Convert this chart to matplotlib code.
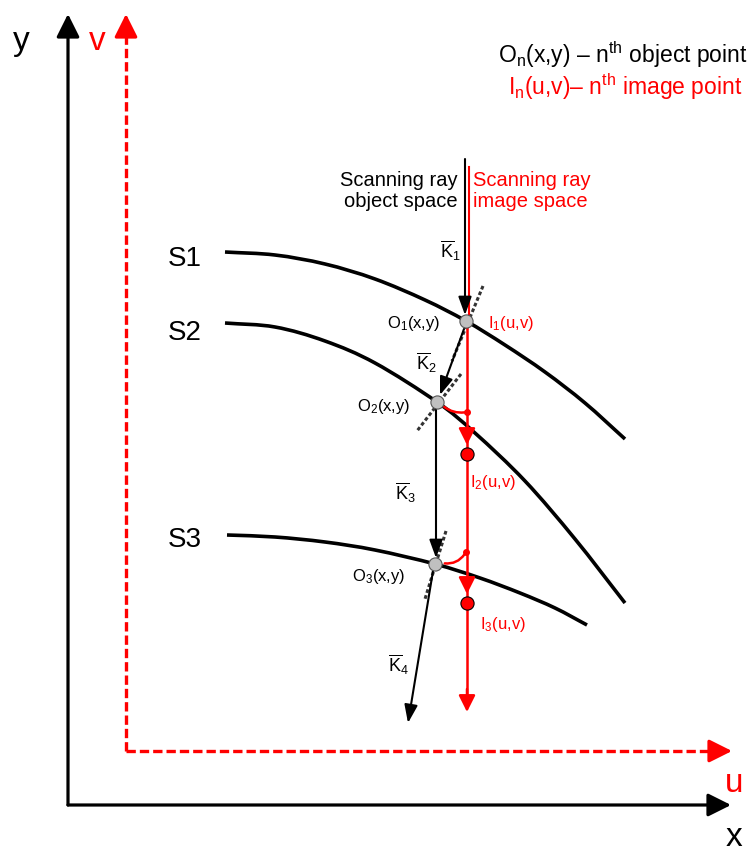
import matplotlib
matplotlib.use('Agg')
import matplotlib.pyplot as plt
from matplotlib.patches import FancyArrowPatch, PathPatch
from matplotlib.path import Path
import numpy as np

plt.rcParams['font.family'] = ['Liberation Sans', 'DejaVu Sans']
plt.rcParams['mathtext.fontset'] = 'custom'
plt.rcParams['mathtext.rm'] = 'Liberation Sans'
plt.rcParams['mathtext.it'] = 'Liberation Sans:italic'

# surfaces (pixel coords, y down)
s1_x = [225, 275, 325, 375, 425, 466, 505, 545, 585, 625]
s1_y = [253, 256, 265, 280, 301, 322, 346, 373, 404, 440]
s2_x = [225, 275, 325, 375, 437, 475, 525, 575, 625]
s2_y = [324, 328, 342, 364, 403, 434, 482, 540, 604]
s3_x = [227, 275, 325, 375, 435, 480, 520, 555, 587]
s3_y = [536, 538, 543, 551, 565, 579, 594, 609, 626]
surf_names = ['S1', 'S2', 'S3']
surf_label_y = [266, 340, 547]

# object points O1..O3 and image points I2, I3
obj_x = [466, 437, 435]
obj_y = [322, 403, 565]
img_x = [467, 467]
img_y = [455, 604]

RED = '#ff0000'

fig = plt.figure(figsize=(7.54, 8.53), dpi=100)
ax = fig.add_axes([0, 0, 1, 1])
ax.set_xlim(0, 754)
ax.set_ylim(853, 0)
ax.axis('off')


def arrow(p0, p1, color='black', lw=1.5, hl=12, hw=5, ls='-', z=3):
    a = FancyArrowPatch(p0, p1, arrowstyle=f'-|>,head_length={hl},head_width={hw}',
                        mutation_scale=1, color=color, lw=lw, linestyle=ls,
                        shrinkA=0, shrinkB=0, zorder=z)
    ax.add_patch(a)


def smooth_path(xs, ys):
    # catmull-rom through the read points, drawn as cubic bezier segments
    p = np.column_stack([xs, ys]).astype(float)
    p = np.vstack([2 * p[0] - p[1], p, 2 * p[-1] - p[-2]])
    verts = [p[1]]
    codes = [Path.MOVETO]
    for i in range(1, len(p) - 2):
        c1 = p[i] + (p[i + 1] - p[i - 1]) / 6
        c2 = p[i + 1] - (p[i + 2] - p[i]) / 6
        verts += [c1, c2, p[i + 1]]
        codes += [Path.CURVE4] * 3
    return Path(verts, codes)


# axes x/y (black) and u/v (red dashed)
arrow((68, 806), (68, 15), lw=2.3, hl=14, hw=7)
arrow((68, 806), (731, 806), lw=2.3, hl=14, hw=7)
ax.plot([126, 126], [752, 30], color=RED, lw=2.4, ls=(0, (2.8, 1.2)))
ax.plot([126, 716], [752, 752], color=RED, lw=2.4, ls=(0, (2.8, 1.2)))
arrow((126, 35), (126, 15), color=RED, lw=2.3, hl=14, hw=7)
arrow((712, 752), (732, 752), color=RED, lw=2.3, hl=14, hw=7)

ax.text(21, 50, 'y', fontsize=24, ha='center', va='baseline')
ax.text(97, 50, 'v', fontsize=24, ha='center', va='baseline', color=RED)
ax.text(734, 792, 'u', fontsize=24, ha='center', va='baseline', color=RED)
ax.text(734, 846, 'x', fontsize=24, ha='center', va='baseline')

# surfaces
for xs, ys, name, ly in zip([s1_x, s2_x, s3_x], [s1_y, s2_y, s3_y], surf_names, surf_label_y):
    ax.add_patch(PathPatch(smooth_path(xs, ys), facecolor='none', edgecolor='black',
                           lw=2.6, capstyle='butt', zorder=2))
    ax.text(185, ly, name, fontsize=20, ha='center', va='baseline')

# dashed normals at object points
normals = [((483, 287), (452, 362)), ((461, 375), (417, 432)), ((446, 532), (425, 600))]
for a, b in normals:
    ax.plot([a[0], b[0]], [a[1], b[1]], color='#333333', lw=2.2, ls=(0, (1.2, 0.8)), zorder=2)

# scanning ray in object space
arrow((465, 160), (465, 316), hl=11, hw=4)
arrow((464, 330), (440, 396), hl=11, hw=4)
arrow((436, 410), (436, 559), hl=11, hw=4)
arrow((433, 572), (408, 724), hl=11, hw=4)

# scanning ray in image space
ax.plot([468.5, 468.5], [168, 322], color=RED, lw=1.5, zorder=2)
ax.plot([467, 467], [322, 700], color=RED, lw=1.8, zorder=2)
arrow((467, 430), (467, 446), color=RED, lw=1.8, hl=10, hw=5)
arrow((467, 580), (467, 595), color=RED, lw=1.8, hl=10, hw=5)
arrow((467, 690), (467, 713), color=RED, lw=1.8, hl=10, hw=5)

# red links from object point to ray
links = [((442, 406), (467, 413), 0.25), ((442, 564), (466, 553), 0.35)]
for a, b, rad in links:
    ax.add_patch(FancyArrowPatch(a, b, arrowstyle='-', connectionstyle=f'arc3,rad={rad}',
                                 color=RED, lw=1.8, zorder=3))
    ax.scatter([b[0]], [b[1]], s=16, color=RED, zorder=4)

ax.scatter(obj_x, obj_y, s=90, color='#c0c0c0', edgecolors='#555555', linewidths=0.8, zorder=5)
ax.scatter(img_x, img_y, s=90, color=RED, edgecolors='black', linewidths=0.8, zorder=5)

# labels
ax.text(458, 186, 'Scanning ray', fontsize=14.5, ha='right', va='baseline')
ax.text(458, 207, 'object space', fontsize=14.5, ha='right', va='baseline')
ax.text(473, 186, 'Scanning ray', fontsize=14.5, ha='left', va='baseline', color=RED)
ax.text(473, 207, 'image space', fontsize=14.5, ha='left', va='baseline', color=RED)

ax.text(450, 258, r'$\overline{\mathrm{K}}_{\mathrm{1}}$', fontsize=13, ha='center', va='baseline')
ax.text(426, 370, r'$\overline{\mathrm{K}}_{\mathrm{2}}$', fontsize=13, ha='center', va='baseline')
ax.text(405, 500, r'$\overline{\mathrm{K}}_{\mathrm{3}}$', fontsize=13, ha='center', va='baseline')
ax.text(398, 672, r'$\overline{\mathrm{K}}_{\mathrm{4}}$', fontsize=13, ha='center', va='baseline')

ax.text(440, 323, r'O$_\mathrm{1}$(x,y)', fontsize=12, ha='right', va='center')
ax.text(410, 407, r'O$_\mathrm{2}$(x,y)', fontsize=12, ha='right', va='center')
ax.text(405, 577, r'O$_\mathrm{3}$(x,y)', fontsize=12, ha='right', va='center')
ax.text(488, 323, r'I$_\mathrm{1}$(u,v)', fontsize=12, ha='left', va='center', color=RED)
ax.text(470, 483, r'I$_\mathrm{2}$(u,v)', fontsize=12, ha='left', va='center', color=RED)
ax.text(480, 625, r'I$_\mathrm{3}$(u,v)', fontsize=12, ha='left', va='center', color=RED)

ax.text(748, 63, r'O$_\mathrm{n}$(x,y) – n$^\mathrm{th}$ object point', fontsize=16.5,
        ha='right', va='baseline')
ax.text(742, 95, r'I$_\mathrm{n}$(u,v)– n$^\mathrm{th}$ image point', fontsize=16.5,
        ha='right', va='baseline', color=RED)

fig.savefig('out.png', dpi=100)
